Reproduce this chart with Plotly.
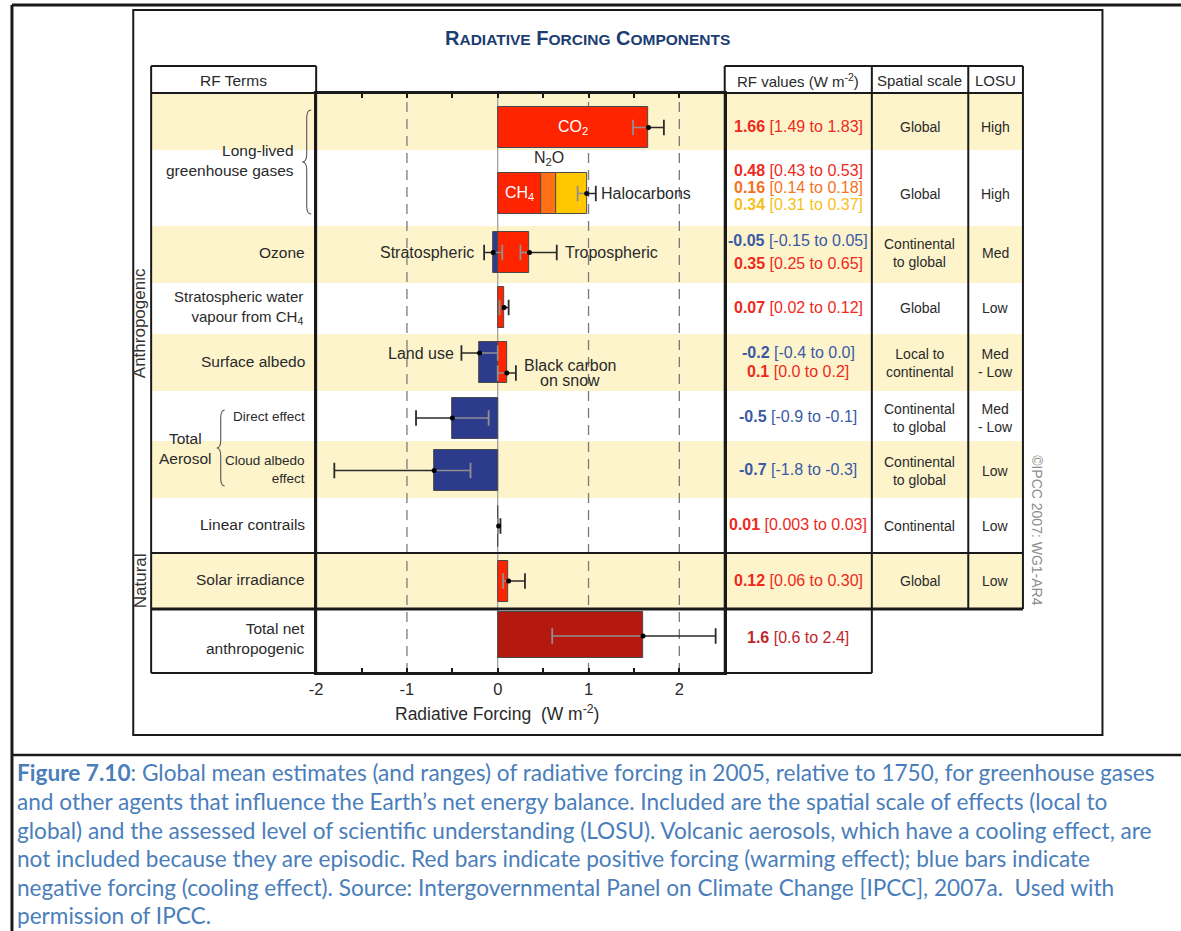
import plotly.graph_objects as go

# ---------------- data ----------------
terms = ["CO2", "CH4", "N2O", "Halocarbons", "Stratospheric ozone", "Tropospheric ozone",
         "Stratospheric water vapour", "Land use", "Black carbon on snow", "Direct effect",
         "Cloud albedo effect", "Linear contrails", "Solar irradiance", "Total net anthropogenic"]
rf_value = [1.66, 0.48, 0.16, 0.34, -0.05, 0.35, 0.07, -0.2, 0.1, -0.5, -0.7, 0.01, 0.12, 1.6]
rf_low = [1.49, 0.43, 0.14, 0.31, -0.15, 0.25, 0.02, -0.4, 0.0, -0.9, -1.8, 0.003, 0.06, 0.6]
rf_high = [1.83, 0.53, 0.18, 0.37, 0.05, 0.65, 0.12, 0.0, 0.2, -0.1, -0.3, 0.03, 0.30, 2.4]
rf_text_value = ["1.66", "0.48", "0.16", "0.34", "-0.05", "0.35", "0.07", "-0.2", "0.1",
                 "-0.5", "-0.7", "0.01", "0.12", "1.6"]
rf_text_range = ["[1.49 to 1.83]", "[0.43 to 0.53]", "[0.14 to 0.18]", "[0.31 to 0.37]",
                 "[-0.15 to 0.05]", "[0.25 to 0.65]", "[0.02 to 0.12]", "[-0.4 to 0.0]",
                 "[0.0 to 0.2]", "[-0.9 to -0.1]", "[-1.8 to -0.3]", "[0.003 to 0.03]",
                 "[0.06 to 0.30]", "[0.6 to 2.4]"]
# combined CH4 + N2O + halocarbons uncertainty bar
ghg_other = (0.98, 0.88, 1.08)

row_terms = ["Long-lived<br>greenhouse gases", "", "Ozone",
             "Stratospheric water<br>vapour from CH<sub>4</sub>", "Surface albedo",
             "Direct effect", "Cloud albedo<br>effect", "Linear contrails",
             "Solar irradiance", "Total net<br>anthropogenic"]
spatial_scale = ["Global", "Global", "Continental<br>to global", "Global", "Local to<br>continental",
                 "Continental<br>to global", "Continental<br>to global", "Continental", "Global", ""]
losu = ["High", "High", "Med", "Low", "Med<br>- Low", "Med<br>- Low", "Low", "Low", "Low", ""]

tick_values = [-2, -1.5, -1, -0.5, 0, 0.5, 1, 1.5, 2]
tick_labels = ["-2", " ", "-1", " ", "0", " ", "1", " ", "2"]

caption_lines = [
    "<b>Figure 7.10</b>: Global mean estimates (and ranges) of radiative forcing in 2005, relative to 1750, for greenhouse gases",
    "and other agents that influence the Earth\u2019s net energy balance. Included are the spatial scale of effects (local to",
    "global) and the assessed level of scientific understanding (LOSU). Volcanic aerosols, which have a cooling effect, are",
    "not included because they are episodic. Red bars indicate positive forcing (warming effect); blue bars indicate",
    "negative forcing (cooling effect). Source: Intergovernmental Panel on Climate Change [IPCC], 2007a.  Used with",
    "permission of IPCC.",
]

# ---------------- layout constants (pixels) ----------------
W, H = 1181, 931
def X(px): return px / W
def Y(py): return 1 - py / H

PLOT_L, PLOT_R, PLOT_T, PLOT_B = 311, 722, 93, 673
ROW_Y = [127.5, 193.5, 252.5, 307.5, 362.5, 418, 470.5, 526, 581, 635]
BAND_ROWS = [(93, 150), (226, 283), (334, 391), (441, 498), (554, 609)]
bar_row = [0, 1, 1, 1, 2, 2, 3, 4, 4, 5, 6, 7, 8, 9]
RED, ORANGE, YELLOW, BLUE, DARKRED = "#ff2400", "#ff7014", "#ffc800", "#2c3b8c", "#b4180f"
bar_color = [RED, RED, ORANGE, YELLOW, BLUE, RED, RED, BLUE, RED, BLUE, BLUE, RED, RED, DARKRED]
TXT_RED, TXT_OR, TXT_YE, TXT_BL, TXT_DR = "#ee2a1c", "#f5721e", "#f6c11c", "#3a5aa6", "#c0272b"
text_color = [TXT_RED, TXT_RED, TXT_OR, TXT_YE, TXT_BL, TXT_RED, TXT_RED, TXT_BL, TXT_RED,
              TXT_BL, TXT_BL, TXT_RED, TXT_RED, TXT_DR]
rf_text_y = [127, 170, 187, 204, 240, 264, 307, 352, 371, 416, 469, 524, 580, 637]
# error bars: (term index or None for combined, y position)
err_items = [(0, 127.5), (None, 193.5), (4, 252.5), (5, 252.5), (6, 307.5), (7, 353), (8, 373),
             (9, 418), (10, 470.5), (11, 526), (12, 581), (13, 636)]

FONT = "Liberation Sans, Arial, Helvetica, sans-serif"
DARK = "#2a2a2a"

fig = go.Figure()

# ---------------- bars ----------------
for i, name in enumerate(terms):
    r = bar_row[i]
    base = sum(rf_value[j] for j in range(i) if bar_row[j] == r and (rf_value[j] > 0) == (rf_value[i] > 0))
    fig.add_trace(go.Bar(
        x=[rf_value[i]], y=[ROW_Y[r]], base=[base], orientation="h",
        width=46 if r == 9 else 41,
        marker=dict(color=bar_color[i], line=dict(color="#4a4a4a", width=1)),
        name=name, hoverinfo="name+x"))

# ---------------- error bars ----------------
GRAY = "#909090"
for idx, yy in err_items:
    if idx is None:
        m, lo, hi = ghg_other
    else:
        m, lo, hi = rf_value[idx], rf_low[idx], rf_high[idx]
    if m >= 0:
        inner, outer = lo, hi
    else:
        inner, outer = hi, lo
    fig.add_trace(go.Scatter(x=[inner, m], y=[yy, yy], mode="lines", line=dict(color=GRAY, width=1.6),
                             hoverinfo="skip"))
    fig.add_trace(go.Scatter(x=[inner], y=[yy], mode="markers", hoverinfo="skip",
                             marker=dict(symbol="line-ns", size=11, line=dict(color=GRAY, width=1.8))))
    fig.add_trace(go.Scatter(x=[m, outer], y=[yy, yy], mode="lines", line=dict(color=DARK, width=1.6),
                             hoverinfo="skip"))
    fig.add_trace(go.Scatter(x=[outer], y=[yy], mode="markers", hoverinfo="skip",
                             marker=dict(symbol="line-ns", size=11, line=dict(color=DARK, width=1.8))))
    fig.add_trace(go.Scatter(x=[m], y=[yy], mode="markers", hoverinfo="skip",
                             marker=dict(symbol="circle", size=5, color="black")))

# ---------------- shapes ----------------
shapes = []
for (y0, y1) in BAND_ROWS:
    shapes.append(dict(type="rect", xref="paper", yref="paper", x0=X(145), x1=X(1022),
                       y0=Y(y1), y1=Y(y0), fillcolor="#fdf4cb", line=dict(width=0), layer="below"))
for xv in [-1, 1, 2]:
    shapes.append(dict(type="line", xref="x", yref="paper", x0=xv, x1=xv, y0=Y(PLOT_B), y1=Y(PLOT_T),
                       line=dict(color="#7a7a7a", width=1.3, dash="10px,7px"), layer="below"))
shapes.append(dict(type="line", xref="x", yref="paper", x0=0, x1=0, y0=Y(PLOT_B), y1=Y(PLOT_T),
                   line=dict(color="#9a9a9a", width=1.2), layer="below"))

def hline(y, x0, x1, w=2):
    shapes.append(dict(type="line", xref="paper", yref="paper", x0=X(x0), x1=X(x1), y0=Y(y), y1=Y(y),
                       line=dict(color="#1a1a1a", width=w)))
def vline(x, y0, y1, w=2):
    shapes.append(dict(type="line", xref="paper", yref="paper", x0=X(x), x1=X(x), y0=Y(y0), y1=Y(y1),
                       line=dict(color="#1a1a1a", width=w)))

# outer page frame and caption separator
hline(5, 5, 1181, 3)
vline(5, 5, 931, 3)
hline(755, 5, 1181, 2.5)
# inner figure frame
shapes.append(dict(type="rect", xref="paper", yref="paper", x0=X(127), x1=X(1102), y0=Y(735), y1=Y(10),
                   line=dict(color="#1a1a1a", width=2)))
# table grid
hline(66, 145, 311); hline(66, 722, 1022)
hline(93, 145, 1022)
hline(553, 145, 1022, 2.2)
hline(609, 145, 1022, 3)
hline(673, 145, 870)
vline(145, 66, 673); vline(311, 66, 673)
vline(722, 66, 673); vline(870, 66, 673)
vline(967, 66, 609); vline(1022, 66, 609)

def brace(xa, xt, yt, yb):
    xm = (xa + xt) / 2
    ym = (yt + yb) / 2
    r = 8
    pts = [("M", xa, yt), ("Q", xm, yt, xm, yt + r), ("L", xm, ym - r), ("Q", xm, ym, xt, ym),
           ("Q", xm, ym, xm, ym + r), ("L", xm, yb - r), ("Q", xm, yb, xa, yb)]
    d = ""
    for p in pts:
        d += p[0] + " " + " ".join(
            f"{X(v):.5f}" if k % 2 == 0 else f"{Y(v):.5f}" for k, v in enumerate(p[1:])) + " "
    shapes.append(dict(type="path", xref="paper", yref="paper", path=d,
                       line=dict(color="#555555", width=1.1)))

brace(306, 297, 110, 214)
brace(219, 211, 410, 486)

# ---------------- annotations ----------------
ann = []
def text(x, y, s, size=14, color=DARK, xanchor="center", align=None, angle=0, ref="paper"):
    d = dict(text=s, showarrow=False, font=dict(family=FONT, size=size, color=color),
             xanchor=xanchor, yanchor="middle", textangle=angle, borderpad=0)
    if ref == "paper":
        d.update(xref="paper", yref="paper", x=X(x), y=Y(y))
    else:
        d.update(xref="x", yref="y", x=x, y=y)
    d["align"] = align if align else ("right" if xanchor == "right" else "center")
    ann.append(d)

SC = 15.5
text(584, 38, "<b>R<span style='font-size:%gpx'>ADIATIVE</span> F<span style='font-size:%gpx'>ORCING</span> "
              "C<span style='font-size:%gpx'>OMPONENTS</span></b>" % (SC, SC, SC), size=20, color="#1c3d72")

text(228, 80, "RF Terms", 15.5)
text(796, 80, "RF values (W m<sup>-2</sup>)", 15)
text(918, 80, "Spatial scale", 15)
text(994, 80, "LOSU", 15)

# left column
term_x = [290, 0, 301, 299, 301, 301, 301, 301, 301, 301]
term_y = [161, 0, 252, 307, 361, 416, 469, 524, 579, 638]
term_size = [15.5, 0, 15.5, 15, 15.5, 13.5, 13.5, 15.5, 15.5, 15.5]
for k, s in enumerate(row_terms):
    if s:
        text(term_x[k], term_y[k], s, term_size[k], xanchor="right")
text(180, 448, "Total<br>Aerosol", 15.5)
text(134, 323, "Anthropogenic", 17, angle=-90, color="#333333")
text(134, 581, "Natural", 17, angle=-90, color="#333333")
text(1036, 531, "\u00a9IPCC 2007: WG1-AR4", 14, angle=90, color="#8c8c8c")

# in-plot labels
text(rf_value[0] / 2, 127.5, "CO<sub>2</sub>", 16, color="white", ref="data")
text(rf_value[1] / 2, 193.5, "CH<sub>4</sub>", 16, color="white", ref="data")
text(rf_value[1] + rf_value[2] / 2, 159, "N<sub>2</sub>O", 16, ref="data")
text(1.13, 193.5, "Halocarbons", 16, xanchor="left", ref="data")
text(-0.25, 252.5, "Stratospheric", 16, xanchor="right", ref="data")
text(0.73, 252.5, "Tropospheric", 16, xanchor="left", ref="data")
text(-0.47, 353, "Land use", 16, xanchor="right", ref="data")
text(0.8, 365, "Black carbon", 16, ref="data")
text(0.8, 380, "on snow", 16, ref="data")

# RF values column
for i in range(len(terms)):
    text(796, rf_text_y[i], "<b>%s</b> %s" % (rf_text_value[i], rf_text_range[i]), 16, color=text_color[i])
for k in range(len(spatial_scale)):
    if spatial_scale[k]:
        text(918, ROW_Y[k], spatial_scale[k], 14)
        text(994, ROW_Y[k], losu[k], 14)

# axis title
text(493, 713, "Radiative Forcing  (W m<sup>-2</sup>)", 17.5)

# caption
cap_y = [772, 801, 830, 858, 887, 915]
for line, yy in zip(caption_lines, cap_y):
    ann.append(dict(text=line, showarrow=False, xref="paper", yref="paper", x=X(9), y=Y(yy),
                    xanchor="left", yanchor="middle", align="left", borderpad=0,
                    font=dict(family="Lato, Open Sans, sans-serif", size=22.6, color="#4a7ebb")))

fig.update_layout(
    width=W, height=H, margin=dict(l=0, r=0, t=0, b=0),
    paper_bgcolor="white", plot_bgcolor="rgba(0,0,0,0)",
    showlegend=False, barmode="overlay", bargap=0,
    shapes=shapes, annotations=ann,
    xaxis=dict(domain=[X(PLOT_L), X(PLOT_R)], range=[-2, 2.5], tickvals=tick_values, ticktext=tick_labels,
               ticks="inside", ticklen=5, tickwidth=1.5, tickcolor="#1a1a1a", showline=True,
               linecolor="#1a1a1a", linewidth=2, mirror="ticks", showgrid=False, zeroline=False,
               tickfont=dict(family=FONT, size=16.5, color=DARK), fixedrange=True),
    yaxis=dict(domain=[Y(PLOT_B), Y(PLOT_T)], range=[PLOT_B, PLOT_T], showticklabels=False,
               showline=True, linecolor="#1a1a1a", linewidth=2, mirror=True, showgrid=False,
               zeroline=False, ticks="", fixedrange=True),
)

fig.write_html(
    "out.html", config={"displayModeBar": False},
    post_script=("document.documentElement.style.margin='0px';document.body.style.margin='0px';"
                 "document.documentElement.style.overflow='hidden';document.body.style.overflow='hidden';"
                 "var gd=document.getElementById('{plot_id}');gd.style.position='absolute';"
                 "gd.style.left='0px';gd.style.top='0px';"))
